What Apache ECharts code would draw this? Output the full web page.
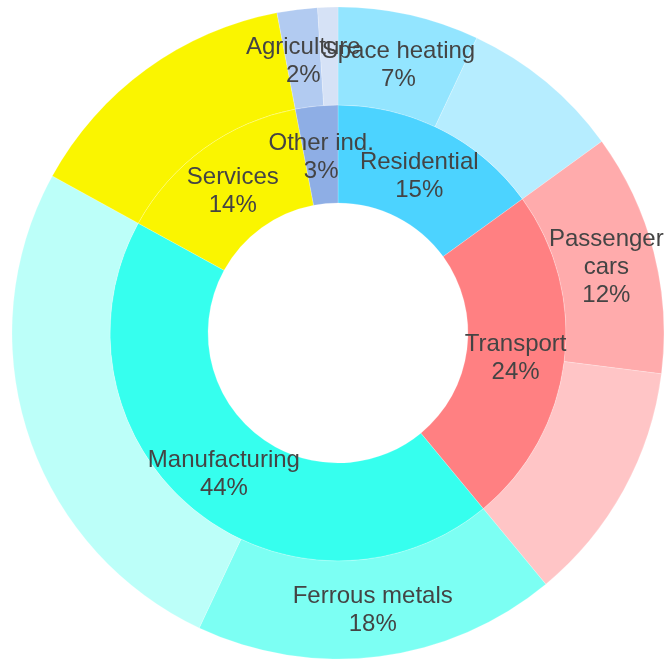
<!DOCTYPE html>
<html>
<head>
<meta charset="utf-8">
<script src="https://cdn.jsdelivr.net/npm/echarts@6/dist/echarts.min.js"></script>
<style>
  html, body { margin: 0; padding: 0; background: #fff; }
  #chart { width: 667px; height: 659px; }
</style>
</head>
<body>
<div id="chart"></div>
<script>
// Energy use by sector (share of total, %)
const sectors = ['Residential', 'Transport', 'Manufacturing', 'Services', 'Other ind.'];
const sectorValues = [15, 24, 44, 14, 3];
const sectorColors = ['#4CD3FF', '#FF8082', '#36FFEE', '#FAF500', '#8EAEE5'];

// Sub-sectors per sector (unnamed pieces are the remainder)
const subNames = [
  ['Space heating', ''],
  ['Passenger cars', ''],
  ['Ferrous metals', ''],
  [''],
  ['Agriculture', '']
];
const subValues = [
  [7, 8],
  [12, 12],
  [18, 26],
  [14],
  [2, 1]
];
const subColors = [
  ['#93E5FF', '#B6EDFF'],
  ['#FFABAC', '#FFC5C6'],
  ['#7CFFF3', '#BCFFF9'],
  ['#FAF500'],
  ['#B2CBF1', '#D6E2F6']
];

// Line breaks used when a name is drawn inside its segment
const wrapped = { 'Passenger cars': 'Passenger\ncars' };

const total = sectorValues.reduce((a, b) => a + b, 0);

const data = sectors.map((name, i) => ({
  name: name,
  value: sectorValues[i],
  itemStyle: { color: sectorColors[i] },
  children: subNames[i].map((sub, j) => ({
    name: sub,
    value: subValues[i][j],
    itemStyle: { color: subColors[i][j] }
  }))
}));

const chart = echarts.init(document.getElementById('chart'), null, { renderer: 'canvas' });
chart.setOption({
  animation: false,
  series: [{
    type: 'sunburst',
    center: [338, 333],
    radius: [130, 326],
    startAngle: 90,
    clockwise: true,
    sort: null,
    nodeClick: false,
    data: data,
    itemStyle: { borderColor: 'rgba(255,255,255,0.4)', borderWidth: 0.5 },
    label: {
      rotate: 0,
      align: 'center',
      verticalAlign: 'middle',
      color: '#444',
      fontFamily: 'Liberation Sans, Arial, sans-serif',
      fontSize: 24,
      lineHeight: 28,
      minAngle: 0,
      rich: {
        // thin spacer line that nudges the text block slightly down
        s: { fontSize: 1, lineHeight: 6 }
      },
      formatter: p => {
        if (!p.name) return '';
        const pct = Math.round(p.value / total * 100) + '%';
        return '{s| }\n' + (wrapped[p.name] || p.name) + '\n' + pct;
      }
    },
    emphasis: { disabled: true },
    levels: [
      {},
      { r0: 130, r: 228 },
      { r0: 228, r: 326 }
    ]
  }]
});
</script>
</body>
</html>
